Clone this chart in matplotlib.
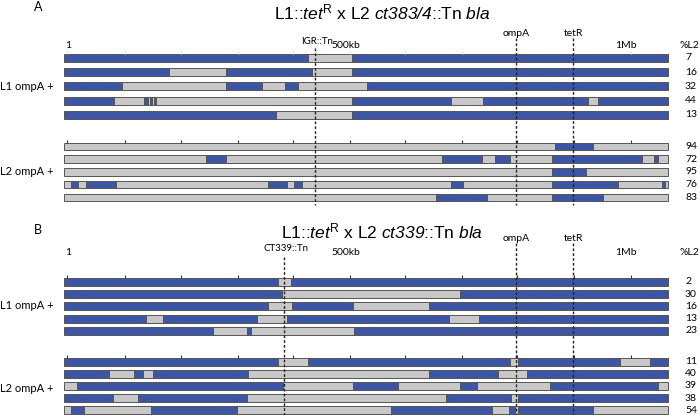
import numpy as np
import matplotlib
matplotlib.use('Agg')
import matplotlib.pyplot as plt
from matplotlib import transforms

# genome length in kb and where the genome bar sits on the canvas (pixels)
genome_kb = 1070
bar_x0, bar_x1 = 64, 668
kb_per_px = genome_kb / float(bar_x1 - bar_x0)

tick_kb = [5, 108, 207, 308, 405, 506, 604, 705, 802, 903, 1004]

# panel A: L1::tetR x L2 ct383/4::Tn bla  -- breakpoints in kb, colours alternate
a_l1_rows = [
    [0, 432, 510, 1070],
    [0, 186, 287, 439, 510, 1070],
    [0, 103, 287, 351, 392, 415, 537, 1070],
    [0, 89, 142, 149, 152, 156, 159, 163, 510, 686, 742, 928, 946, 1070],
    [0, 376, 510, 1070],
]
a_l1_start = ['L1', 'L1', 'L1', 'L1', 'L1']
a_l1_pct = [7, 16, 32, 44, 13]

a_l2_rows = [
    [0, 870, 937, 1070],
    [0, 252, 287, 670, 740, 764, 790, 864, 1024, 1045, 1052, 1070],
    [0, 864, 925, 1070],
    [0, 12, 25, 39, 92, 361, 395, 407, 422, 686, 707, 864, 981, 1059, 1065, 1070],
    [0, 659, 749, 864, 955, 1070],
]
a_l2_start = ['L2', 'L2', 'L2', 'L2', 'L2']
a_l2_pct = [94, 72, 95, 76, 83]

# panel B: L1::tetR x L2 ct339::Tn bla
b_l1_rows = [
    [0, 379, 402, 1070],
    [0, 386, 702, 1070],
    [0, 361, 404, 512, 647, 1070],
    [0, 145, 175, 342, 395, 682, 735, 1070],
    [0, 264, 324, 331, 514, 1070],
]
b_l1_start = ['L1', 'L1', 'L1', 'L1', 'L1']
b_l1_pct = [2, 30, 16, 13, 23]

b_l2_rows = [
    [0, 379, 432, 790, 804, 985, 1038, 1070],
    [0, 80, 124, 140, 158, 326, 647, 769, 820, 1070],
    [0, 23, 388, 512, 592, 702, 732, 861, 1052, 1070],
    [0, 87, 131, 324, 677, 792, 804, 1070],
    [0, 12, 35, 154, 306, 579, 758, 788, 799, 804, 937, 1070],
]
b_l2_start = ['L1', 'L1', 'L2', 'L1', 'L2']
b_l2_pct = [11, 40, 39, 38, 54]

marker_kb = {'IGR::Tn': 445, 'CT339::Tn': 390, 'ompA': 801, 'tetR': 902}

colors = {'L1': '#3c55a5', 'L2': '#c8c8c8'}
edge = '#555555'
label_font = 'Lato'
title_font = 'Liberation Sans'

# math mode only holds the italic bits (and the upright superscript R)
plt.rcParams['mathtext.fontset'] = 'custom'
plt.rcParams['mathtext.rm'] = title_font + ':italic'
plt.rcParams['mathtext.it'] = title_font + ':italic'
plt.rcParams['mathtext.sf'] = title_font

fig = plt.figure(figsize=(7, 4.15), dpi=100)
ax = fig.add_axes([0, 0, 1, 1])
ax.set_xlim(-bar_x0 * kb_per_px, (700 - bar_x0) * kb_per_px)
ax.set_ylim(415, 0)
ax.axis('off')

# x in canvas fraction, y in pixels from top
tr = transforms.blended_transform_factory(ax.transAxes, ax.transData)


def px(x):
    return x / 700.0


def draw_group(rows, starts, pcts, y0, dy, bar_h, tick_col):
    for i, (bp, st) in enumerate(zip(rows, starts)):
        y = y0 + i * dy
        widths = np.diff(bp)
        cols = []
        c = st
        for k in range(len(widths)):
            cols.append(colors[c])
            c = 'L2' if c == 'L1' else 'L1'
        ax.barh(y, widths, left=bp[:-1], height=bar_h, color=cols,
                edgecolor=edge, linewidth=0.7)
        ax.text(px(685), y, str(pcts[i]), transform=tr, fontsize=7.5,
                family=label_font, va='center', ha='left')
    top = y0 - bar_h / 2.0
    ax.vlines(tick_kb, top - 2.5, top, color=tick_col, lw=0.8)


def header(y_title, y_lab, y_mark, label_name, title):
    ax.text(px(bar_x0 + 1), y_lab, '1', transform=tr, fontsize=7.5,
            family=label_font, va='center', ha='left')
    ax.text(px(346), y_lab, '500kb', transform=tr, fontsize=7.5,
            family=label_font, va='center', ha='center')
    ax.text(px(626), y_lab, '1Mb', transform=tr, fontsize=7.5,
            family=label_font, va='center', ha='center')
    ax.text(px(689), y_lab, '%L2', transform=tr, fontsize=7.5,
            family=label_font, va='center', ha='center')
    ax.text(marker_kb[label_name] + 3, y_lab - 4, label_name, fontsize=7,
            family=label_font, va='center', ha='center')
    for m in ['ompA', 'tetR']:
        ax.text(marker_kb[m], y_mark, m, fontsize=7.5, family=label_font,
                va='center', ha='center')
    ax.text(px(382), y_title, title, transform=tr, fontsize=12.5,
            family=title_font, va='center', ha='center')


dash = (0, (2, 1.5))

# ---- panel A
ax.text(px(38), 7, 'A', transform=tr, fontsize=9, family=label_font,
        va='center', ha='center')
header(12, 46, 33, 'IGR::Tn',
       r'L1::$\mathrm{tet}^{\mathsf{R}}$ x L2 $\mathrm{ct383/4}$::Tn $\mathrm{bla}$')
draw_group(a_l1_rows, a_l1_start, a_l1_pct, 58, 14.2, 8, '#dddddd')
draw_group(a_l2_rows, a_l2_start, a_l2_pct, 146.5, 12.7, 7.5, '#333333')
ax.text(px(0), 87, 'L1 ompA +', transform=tr, fontsize=8, family=label_font,
        va='center', ha='left')
ax.text(px(0), 171, 'L2 ompA +', transform=tr, fontsize=8, family=label_font,
        va='center', ha='left')
ax.vlines(marker_kb['IGR::Tn'], 48, 205, color='#222222', lw=1, linestyles=dash)
ax.vlines([marker_kb['ompA'], marker_kb['tetR']], 38, 205, color='#222222',
          lw=1, linestyles=dash)

# ---- panel B
ax.text(px(38), 230, 'B', transform=tr, fontsize=9, family=label_font,
        va='center', ha='center')
header(231, 252, 238, 'CT339::Tn',
       r'L1::$\mathrm{tet}^{\mathsf{R}}$ x L2 $\mathrm{ct339}$::Tn $\mathrm{bla}$')
draw_group(b_l1_rows, b_l1_start, b_l1_pct, 281.7, 12.3, 8, '#333333')
draw_group(b_l2_rows, b_l2_start, b_l2_pct, 361.7, 12.1, 8, '#333333')
ax.text(px(0), 305, 'L1 ompA +', transform=tr, fontsize=8, family=label_font,
        va='center', ha='left')
ax.text(px(0), 388, 'L2 ompA +', transform=tr, fontsize=8, family=label_font,
        va='center', ha='left')
ax.vlines(marker_kb['CT339::Tn'], 257, 415, color='#222222', lw=1, linestyles=dash)
ax.vlines([marker_kb['ompA'], marker_kb['tetR']], 243, 415, color='#222222',
          lw=1, linestyles=dash)

fig.savefig('out.png', dpi=100)
